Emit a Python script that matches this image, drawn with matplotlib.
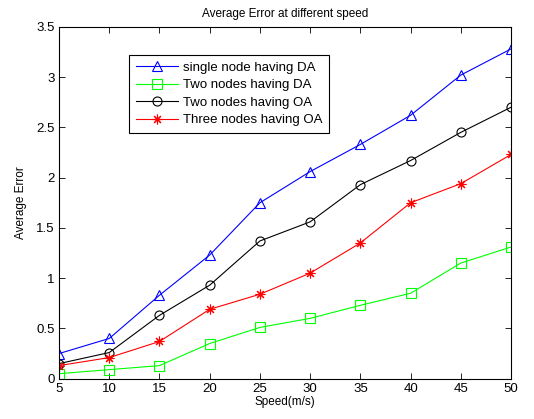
import numpy as np
import matplotlib
matplotlib.use('Agg')
import matplotlib.pyplot as plt

speed = [5, 10, 15, 20, 25, 30, 35, 40, 45, 50]
single_da = [0.25, 0.40, 0.83, 1.23, 1.75, 2.06, 2.33, 2.62, 3.02, 3.28]
two_da = [0.05, 0.09, 0.13, 0.35, 0.51, 0.60, 0.73, 0.85, 1.15, 1.31]
two_oa = [0.15, 0.26, 0.63, 0.93, 1.37, 1.56, 1.93, 2.17, 2.45, 2.70]
three_oa = [0.13, 0.21, 0.37, 0.69, 0.84, 1.05, 1.35, 1.75, 1.94, 2.23]
labels = ['single node having DA', 'Two nodes having DA',
          'Two nodes having OA', 'Three nodes having OA']

plt.rcParams['font.family'] = ['Liberation Sans', 'DejaVu Sans']
plt.rcParams['font.size'] = 7.5

fig = plt.figure(figsize=(5.34, 4.19), dpi=100)
ax = fig.add_axes([0.1105, 0.0962, 0.8465, 0.8398])

ax.plot(speed, single_da, color='#0000ff', lw=0.8, marker='^', ms=7, mfc='none', mew=0.8, label=labels[0])
ax.plot(speed, two_da, color='#00ff00', lw=0.8, marker='s', ms=6.5, mfc='none', mew=0.8, label=labels[1])
ax.plot(speed, two_oa, color='black', lw=0.8, marker='o', ms=6.5, mfc='none', mew=0.8, label=labels[2])
ax.plot(speed, three_oa, color='#ff0000', lw=0.8, marker=(8, 2, 0), ms=7, mew=0.8, label=labels[3])

ax.set_xlim(5, 50)
ax.set_ylim(0, 3.5)
ax.set_xticks(np.arange(5, 51, 5))
ax.set_yticks([0, 0.5, 1, 1.5, 2, 2.5, 3, 3.5])
ax.set_yticklabels(['0', '0.5', '1', '1.5', '2', '2.5', '3', '3.5'])
ax.tick_params(direction='in', top=True, right=True, length=4, width=0.6, labelsize=9.5, pad=3)
for s in ax.spines.values():
    s.set_linewidth(0.8)

ax.set_title('Average Error at different speed', fontsize=8.5, pad=7)
ax.set_xlabel('Speed(m/s)', fontsize=8.5, labelpad=1)
ax.set_ylabel('Average Error', fontsize=8.5, labelpad=7)

leg = ax.legend(loc='upper left', bbox_to_anchor=(0.155, 0.92), fontsize=9.5,
                fancybox=False, edgecolor='black', framealpha=1, borderaxespad=0,
                handlelength=3.2, borderpad=0.5, labelspacing=0.4, handletextpad=0.4)
leg.get_frame().set_linewidth(0.8)

fig.savefig('out.png', dpi=100)
